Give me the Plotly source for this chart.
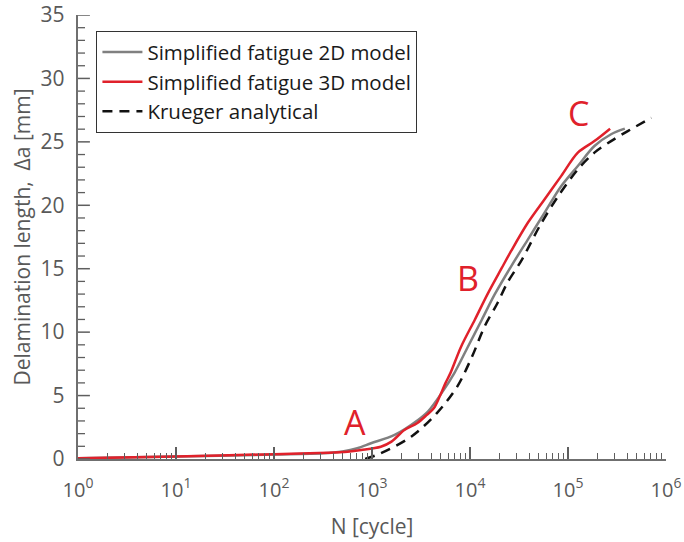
import math
import plotly.graph_objects as go

# ---- data ----
n_2d = [1, 10, 100, 316, 500, 708, 977, 1700, 2950, 3720, 5130, 6920, 9550,
        13200, 17800, 26300, 38900, 57500, 85100, 126000, 186000, 275000, 380000]
a_2d = [0.05, 0.2, 0.35, 0.45, 0.6, 0.85, 1.24, 1.9, 3.08, 3.74, 5.19, 6.77, 8.87,
        10.98, 12.95, 15.19, 17.3, 19.4, 21.5, 23.1, 24.67, 25.6, 26.04]

n_3d = [1, 10, 100, 355, 562, 776, 1230, 1580, 2140, 2880, 3630, 4270, 4900, 5620,
        6310, 8130, 11200, 15100, 20900, 26300, 38900, 57500, 85100, 126000, 186000, 269000]
a_3d = [0.05, 0.2, 0.38, 0.5, 0.58, 0.71, 0.97, 1.37, 2.29, 2.82, 3.48, 4.0, 4.92, 5.98,
        6.77, 8.87, 10.98, 13.0, 15.0, 16.4, 18.62, 20.46, 22.3, 24.15, 25.06, 26.04]

n_kr = [851, 1230, 2510, 4570, 7410, 10500, 14100, 19100, 24000, 33900, 51300,
        79400, 126000, 186000, 275000, 407000, 708000]
a_kr = [0, 0.45, 1.76, 3.6, 5.71, 8.08, 10.45, 12.3, 13.88, 15.72, 18.35,
        20.72, 22.83, 24.15, 25.06, 25.85, 26.9]

x_tickvals = [1, 10, 100, 1000, 10000, 100000, 1000000]
x_ticktext = ["10<sup>0</sup>", "10<sup>1</sup>", "10<sup>2</sup>", "10<sup>3</sup>",
              "10<sup>4</sup>", "10<sup>5</sup>", "10<sup>6</sup>"]
x_minor = [k * 10 ** d for d in range(6) for k in range(2, 10)]
y_tickvals = [0, 5, 10, 15, 20, 25, 30, 35]
y_ticktext = ["0", "5", "10", "15", "20", "25", "30", "35"]
y_minor = [v for v in range(0, 36) if v % 5 != 0]

series_names = ["Simplified fatigue 2D model", "Simplified fatigue 3D model", "Krueger analytical"]

FONT = "Open Sans, Noto Sans, DejaVu Sans, sans-serif"
RED = "#e0212b"
GRAY = "#808080"
AXIS = "#6f6f6f"
TICK = "#5e5e5e"
TXT = "#595959"
CLEAR = "rgba(0,0,0,0)"
PAD = "\u00a0"
X_LEFT = x_tickvals[0]   # left edge of the log axis (10^0)

fig = go.Figure()
fig.add_trace(go.Scatter(x=n_2d, y=a_2d, mode="lines", name=series_names[0],
                         line=dict(color=GRAY, width=2.5, shape="spline", smoothing=0.9)))
fig.add_trace(go.Scatter(x=n_3d, y=a_3d, mode="lines", name=series_names[1],
                         line=dict(color=RED, width=2.5, shape="spline", smoothing=0.9)))
fig.add_trace(go.Scatter(x=n_kr, y=a_kr, mode="lines", name=series_names[2],
                         line=dict(color="#111111", width=2.5, dash="10px,7px",
                                   shape="spline", smoothing=0.9)))

# y-axis inside tick marks: horizontal line markers centred on the axis,
# clipped by the plot area so only the inner half shows
fig.add_trace(go.Scatter(x=[X_LEFT] * len(y_tickvals), y=y_tickvals, mode="markers",
                         showlegend=False, hoverinfo="skip", cliponaxis=True,
                         marker=dict(symbol="line-ew", size=17, color=TICK,
                                     line=dict(color=TICK, width=1.5))))
fig.add_trace(go.Scatter(x=[X_LEFT] * len(y_minor), y=y_minor, mode="markers",
                         showlegend=False, hoverinfo="skip", cliponaxis=True,
                         marker=dict(symbol="line-ew", size=10, color=TICK,
                                     line=dict(color=TICK, width=1.3))))

# empty trace that carries the overlay x axis with the inside tick marks
fig.add_trace(go.Scatter(x=[], y=[], xaxis="x2", yaxis="y", showlegend=False,
                         hoverinfo="skip"))

labels = [("A", 673, 2.9), ("B", 9550, 14.3), ("C", 129000, 27.3)]
for t, xv, yv in labels:
    fig.add_annotation(x=math.log10(xv), y=yv, text=t, showarrow=False,
                       font=dict(family=FONT, size=34, color=RED))

fig.update_layout(
    width=684, height=542,
    margin=dict(l=78, r=18, t=15, b=83),
    paper_bgcolor="white", plot_bgcolor="white",
    font=dict(family=FONT, color=TXT, size=21),
    showlegend=True,
    legend=dict(x=0.031, y=0.964, xanchor="left", yanchor="top",
                bordercolor="#333333", borderwidth=1.2, bgcolor="white",
                font=dict(family=FONT, size=20.5, color="#1a1a1a"),
                itemwidth=40, tracegroupgap=0),
    xaxis=dict(type="log", range=[0, 6], tickvals=x_tickvals, ticktext=x_ticktext,
               automargin=False, ticks="outside", ticklen=12, tickcolor=CLEAR,
               showline=True, linecolor=AXIS, linewidth=1.5, showgrid=False, zeroline=False,
               tickfont=dict(size=20, color=TXT),
               title=dict(text="N [cycle]", font=dict(size=21, color=TXT), standoff=18)),
    yaxis=dict(range=[0, 35], tickvals=y_tickvals,
               ticktext=[t + PAD for t in y_ticktext],
               automargin=False, ticks="outside", ticklen=2, tickcolor=CLEAR,
               showline=True, linecolor=AXIS, linewidth=1.5,
               showgrid=False, zeroline=False, tickfont=dict(size=21, color=TXT),
               title=dict(text="Delamination length,  Δa [mm]",
                          font=dict(size=21, color=TXT), standoff=4)),
    xaxis2=dict(type="log", range=[0, 6], overlaying="x", anchor="y", side="bottom",
                tickvals=x_tickvals, showticklabels=False, automargin=False,
                ticks="inside", ticklen=12, tickwidth=1.5, tickcolor=TICK,
                showline=False, showgrid=False, zeroline=False,
                minor=dict(tickvals=x_minor, ticks="inside", ticklen=6, tickwidth=1.3,
                           tickcolor=TICK, showgrid=False)),
)

fig.write_html("out.html", config={"displayModeBar": False},
               post_script="document.body.style.margin='0';")
